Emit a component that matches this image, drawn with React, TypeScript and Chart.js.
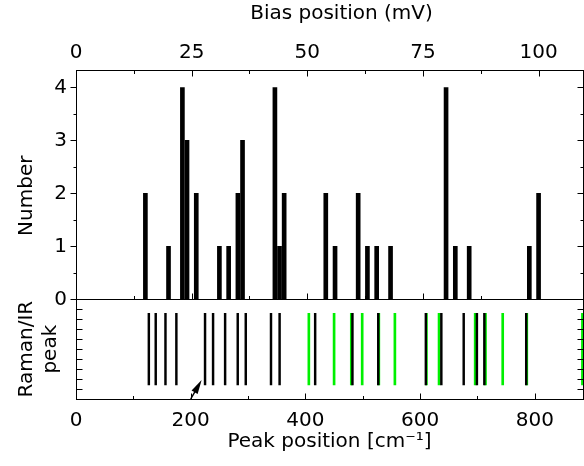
import React, { useEffect, useRef } from 'react';
import { Chart, registerables } from 'chart.js';

Chart.register(...registerables);

// ---- data ----
const biasPositions = [15, 20, 23, 24, 26, 31, 33, 35, 36, 43, 44, 45, 54, 56, 61, 63, 65, 68, 80, 82, 85, 98, 100]; // mV
const counts = [2, 1, 4, 3, 2, 1, 1, 2, 3, 4, 1, 2, 2, 1, 2, 1, 1, 1, 4, 1, 1, 1, 2];
const blackPeaks = [127, 139, 156, 175, 225, 239, 260, 282, 296, 340, 355, 417, 482, 527, 610, 637, 676, 699, 712, 785]; // cm-1
const greenPeaks = [406, 450, 480, 499, 528, 556, 611, 633, 696, 714, 744, 786, 883]; // cm-1
const peakSpan = [0.14, 0.86];
const bottomTicks = [0, 200, 400, 600, 800];
const topTicks = [0, 25, 50, 75, 100];
const numberTicks = [0, 1, 2, 3, 4];
const arrowFrom = [200, 0];
const arrowTo = [219, 0.19];

const CM_PER_MV = 8.0655;
const X_MAX = 884;
const Y_TOP_MAX = 4.33;

const FONT = "'DejaVu Sans'";
const TOP_TITLE = 'Bias position (mV)';
const LEFT_TITLE = 'Number';

const framePlugin = {
  id: 'framePlugin',
  afterDraw(chart: any) {
    const { ctx, chartArea: ca, scales } = chart;
    const xb = scales.x, xt = scales.xTop, yt = scales.yTop, yb = scales.yBot;
    const L = Math.round(ca.left) + 0.5;
    const R = Math.round(ca.right) + 0.5;
    const T = Math.round(ca.top) + 0.5;
    const B = Math.round(ca.bottom) + 0.5;
    const S = Math.floor(yt.getPixelForValue(0)) + 0.5;
    ctx.save();
    ctx.strokeStyle = '#000';
    ctx.lineWidth = 1;
    const line = (x1: number, y1: number, x2: number, y2: number) => {
      ctx.beginPath();
      ctx.moveTo(x1, y1);
      ctx.lineTo(x2, y2);
      ctx.stroke();
    };
    // frame
    line(L, T - 0.5, L, B + 0.5);
    line(R, T - 0.5, R, B + 0.5);
    line(L - 0.5, T, R + 0.5, T);
    line(L - 0.5, B, R + 0.5, B);
    line(L - 0.5, S, R + 0.5, S);

    // top axis ticks (mV), inward at top and at the y=0 line
    for (let v = 0; v <= xt.max + 1e-6; v += 12.5) {
      const major = Math.abs(v / 25 - Math.round(v / 25)) < 1e-6;
      const px = Math.round(xt.getPixelForValue(v)) + 0.5;
      const len = major ? 6 : 3.5;
      line(px, T, px, T + len);
      line(px, S, px, S - len);
    }
    // bottom axis ticks (cm-1)
    for (let v = 0; v <= xb.max + 1e-6; v += 100) {
      const major = v % 200 === 0;
      const px = Math.round(xb.getPixelForValue(v)) + 0.5;
      line(px, B, px, B - (major ? 6 : 3.5));
    }
    // top panel y ticks: outward on left, inward on right
    for (let v = 0; v <= yt.max + 1e-6; v += 0.5) {
      const major = Math.abs(v - Math.round(v)) < 1e-6;
      const py = Math.round(yt.getPixelForValue(v)) + 0.5;
      const len = major ? 6 : 3;
      line(L, py, L - len, py);
      if (v > 0) line(R, py, R - len, py);
    }
    // bottom panel ticks, inward both sides
    for (let i = 1; i <= 9; i++) {
      const v = i / 10;
      const py = Math.round(yb.getPixelForValue(v)) + 0.5;
      line(L, py, L + 6, py);
      line(R, py, R - 6, py);
    }
    // arrow
    const ax1 = xb.getPixelForValue(arrowFrom[0]);
    const ay1 = yb.getPixelForValue(arrowFrom[1]);
    const ax2 = xb.getPixelForValue(arrowTo[0]);
    const ay2 = yb.getPixelForValue(arrowTo[1]);
    const ang = Math.atan2(ay2 - ay1, ax2 - ax1);
    const hl = 14, hw = 3.5;
    ctx.lineWidth = 1.5;
    line(ax1, ay1, ax2 - Math.cos(ang) * hl * 0.8, ay2 - Math.sin(ang) * hl * 0.8);
    ctx.fillStyle = '#000';
    ctx.beginPath();
    ctx.moveTo(ax2, ay2);
    ctx.lineTo(ax2 - Math.cos(ang) * hl - Math.sin(ang) * hw, ay2 - Math.sin(ang) * hl + Math.cos(ang) * hw);
    ctx.lineTo(ax2 - Math.cos(ang) * hl + Math.sin(ang) * hw, ay2 - Math.sin(ang) * hl - Math.cos(ang) * hw);
    ctx.closePath();
    ctx.fill();

    // titles placed as in the reference
    ctx.font = `20px ${FONT}`;
    ctx.fillStyle = '#000';
    ctx.textAlign = 'center';
    ctx.textBaseline = 'middle';
    ctx.fillText(TOP_TITLE, (ca.left + ca.right) / 2 + 12, 14);
    ctx.translate(27, (ca.top + S) / 2 + 11);
    ctx.rotate(-Math.PI / 2);
    ctx.fillText(LEFT_TITLE, 0, 0);
    ctx.restore();
  },
};

export default function App() {
  const ref = useRef<HTMLCanvasElement>(null);
  useEffect(() => {
    Chart.defaults.font.family = FONT;
    Chart.defaults.font.size = 20;
    Chart.defaults.color = '#000';
    const noGrid = { display: false, drawTicks: false, offset: false };
    const noBorder = { display: false };
    const chart = new Chart(ref.current as HTMLCanvasElement, {
      type: 'bar',
      data: {
        datasets: [
          {
            label: 'Number',
            data: biasPositions.map((x, i) => ({ x, y: counts[i] })),
            xAxisID: 'xTop',
            yAxisID: 'yTop',
            backgroundColor: '#000',
            barThickness: 4,
            grouped: false,
          },
          {
            label: 'Raman',
            data: blackPeaks.map((x) => ({ x, y: peakSpan })),
            xAxisID: 'x',
            yAxisID: 'yBot',
            backgroundColor: '#000',
            barThickness: 1.8,
            grouped: false,
          },
          {
            label: 'IR',
            data: greenPeaks.map((x) => ({ x, y: peakSpan })),
            xAxisID: 'x',
            yAxisID: 'yBot',
            backgroundColor: '#00f000',
            barThickness: 2,
            grouped: false,
          },
        ] as any,
      },
      plugins: [framePlugin],
      options: {
        animation: false,
        responsive: false,
        devicePixelRatio: 1,
        layout: { padding: { left: 0, top: 0, right: 1, bottom: 0 } },
        plugins: { legend: { display: false }, tooltip: { enabled: false } },
        scales: {
          x: {
            type: 'linear',
            position: 'bottom',
            offset: false,
            min: 0,
            max: X_MAX,
            afterBuildTicks: (s: any) => { s.ticks = bottomTicks.map((value) => ({ value })); },
            ticks: { autoSkip: false, maxRotation: 0, padding: 10 },
            grid: noGrid,
            border: noBorder,
            title: { display: true, text: 'Peak position [cm⁻¹]', padding: { top: 0, bottom: 12 } },
            afterFit: (s: any) => { s.height = 67; },
          },
          xTop: {
            type: 'linear',
            position: 'top',
            offset: false,
            min: 0,
            max: X_MAX / CM_PER_MV,
            afterBuildTicks: (s: any) => { s.ticks = topTicks.map((value) => ({ value })); },
            ticks: { autoSkip: false, maxRotation: 0, padding: 5 },
            grid: noGrid,
            border: noBorder,
            title: { display: false },
            afterFit: (s: any) => { s.height = 70; },
          },
          yBot: {
            type: 'linear',
            position: 'left',
            stack: 'panels',
            stackWeight: 1,
            weight: 1,
            min: 0,
            max: 1,
            ticks: { display: false },
            grid: noGrid,
            border: noBorder,
            title: { display: true, text: ['Raman/IR', 'peak'], padding: { top: 15, bottom: 0 } },
            afterFit: (s: any) => { s.width = 76; },
          },
          yTop: {
            type: 'linear',
            position: 'left',
            stack: 'panels',
            stackWeight: 2.3,
            weight: 2,
            min: 0,
            max: Y_TOP_MAX,
            afterBuildTicks: (s: any) => { s.ticks = numberTicks.map((value) => ({ value })); },
            ticks: { padding: 9 },
            grid: noGrid,
            border: noBorder,
            title: { display: false },
            afterFit: (s: any) => { s.width = 76; },
          },
        } as any,
      },
    });
    return () => chart.destroy();
  }, []);
  return (
    <div style={{ position: 'fixed', left: 0, top: 0, width: 584, height: 466, background: '#fff' }}>
      <canvas ref={ref} width={584} height={466} style={{ display: 'block' }} />
    </div>
  );
}
